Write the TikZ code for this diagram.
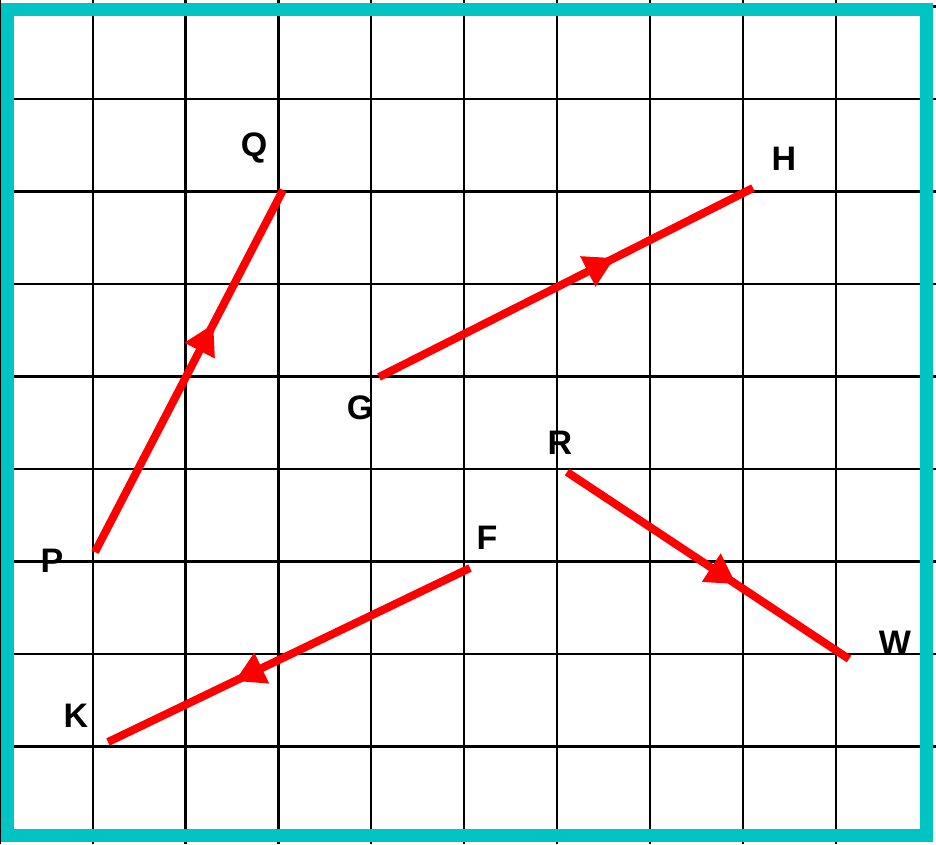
\documentclass[tikz,border=0pt]{standalone}
\usepackage{fontspec}
\setmainfont{Liberation Sans}
\usetikzlibrary{arrows.meta,decorations.markings}
\definecolor{frame}{RGB}{0,196,196}
\definecolor{vec}{RGB}{255,0,0}
\tikzset{
  gridline/.style={draw=black,line width=2.2pt},
  vector/.style={draw=vec,line width=8pt,
    postaction={decorate,decoration={markings,
      mark=at position #1 with {\arrow[vec]{Triangle[width=32pt,length=30pt]}}}}},
  lbl/.style={font=\fontsize{34}{34}\selectfont\bfseries,inner sep=0pt}
}
\begin{document}
\begin{tikzpicture}[x=1pt,y=-1pt]
\useasboundingbox (0,0) rectangle (936,844);
\fill[white] (0,0) rectangle (936,844);
% grid
\foreach \i in {0,...,9} {
  \draw[gridline] ({92.6+92.9*(\i-1)},0) -- ({92.6+92.9*(\i-1)},844);
}
\foreach \j in {0,...,8} {
  \draw[gridline] (0,{99+92.5*(\j-1)}) -- (936,{99+92.5*(\j-1)});
}
% frame
\draw[frame,line width=13pt] (7.5,9.5) rectangle (926,835);
% endpoints
\coordinate (P) at (95,552);
\coordinate (Q) at (283,190);
\coordinate (G) at (379,377);
\coordinate (H) at (753,188);
\coordinate (R) at (567,472);
\coordinate (W) at (849,659);
\coordinate (F) at (470,568);
\coordinate (K) at (108,742);
% vectors
\draw[vector=0.63] (P) -- (Q);
\draw[vector=0.63] (G) -- (H);
\draw[vector=0.6] (R) -- (W);
\draw[vector=0.65] (F) -- (K);
% labels
\node[lbl] (lQ) at (254,148) {Q};
\node[lbl] (lH) at (784,159) {H};
\node[lbl] (lG) at (360,408) {G};
\node[lbl] (lR) at (560,443) {R};
\node[lbl] (lP) at (52,561) {P};
\node[lbl] (lF) at (487,538) {F};
\node[lbl] (lW) at (895,643) {W};
\node[lbl] (lK) at (76,716) {K};
\end{tikzpicture}
\end{document}
